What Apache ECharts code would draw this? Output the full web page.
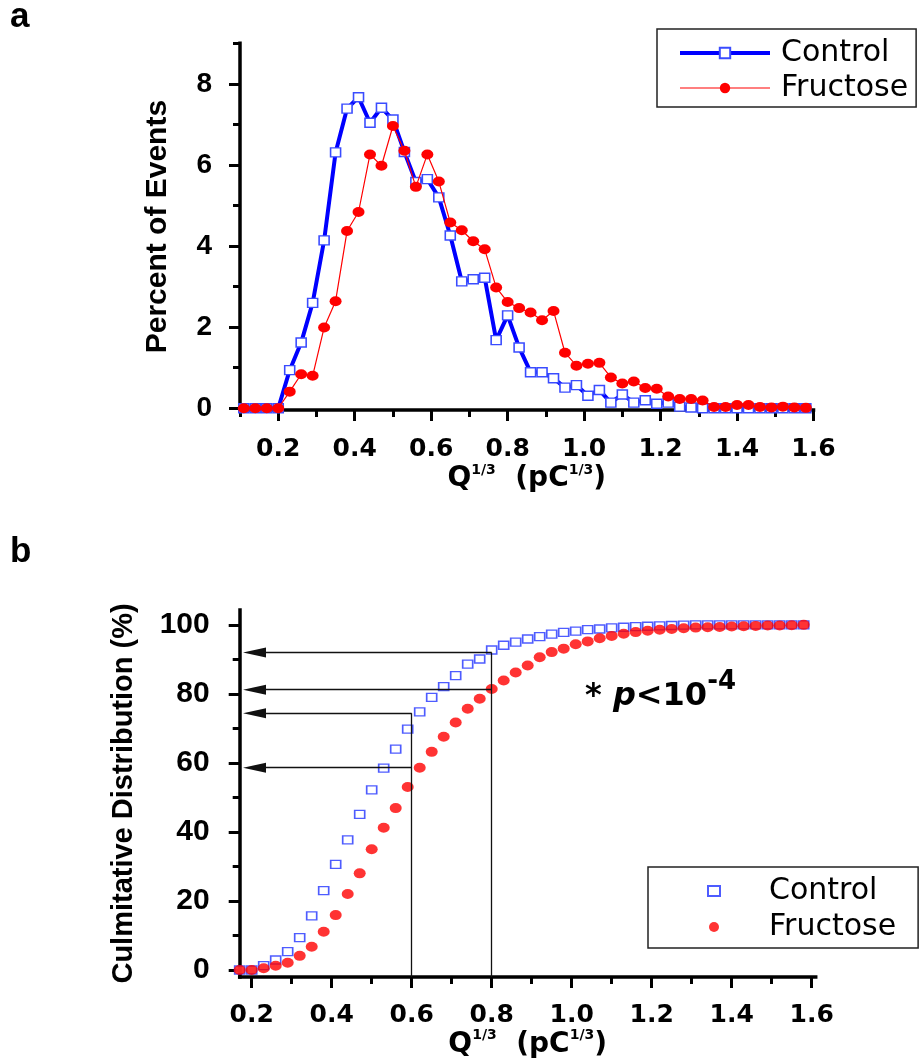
<!DOCTYPE html>
<html><head><meta charset="utf-8">
<script src="https://cdn.jsdelivr.net/npm/echarts@6/dist/echarts.min.js"></script>
<style>html,body{margin:0;padding:0;background:#fff;}#c{width:923px;height:1059px;}</style>
</head><body><div id="c"></div>
<script>
// ---------- data ----------
const binQ = [0.11,0.14,0.17,0.20,0.23,0.26,0.29,0.32,0.35,0.38,0.41,0.44,0.47,0.50,0.53,0.56,0.59,0.62,0.65,0.68,0.71,0.74,0.77,0.80,0.83,0.86,0.89,0.92,0.95,0.98,1.01,1.04,1.07,1.10,1.13,1.16,1.19,1.22,1.25,1.28,1.31,1.34,1.37,1.40,1.43,1.46,1.49,1.52,1.55,1.58];
const controlPct = [0,0,0,0,0.94,1.62,2.60,4.14,6.31,7.39,7.67,7.04,7.41,7.12,6.32,5.58,5.65,5.20,4.26,3.13,3.18,3.22,1.68,2.29,1.50,0.89,0.89,0.74,0.51,0.57,0.31,0.45,0.14,0.34,0.14,0.20,0.11,0.14,0.04,0.02,0,0,0,0,0,0,0,0,0,0];
const fructosePct = [0,0,0,0,0.41,0.84,0.80,1.99,2.64,4.37,4.84,6.26,5.98,6.96,6.35,5.46,6.26,5.59,4.58,4.39,4.12,3.92,2.98,2.62,2.47,2.36,2.17,2.40,1.37,1.05,1.10,1.12,0.76,0.61,0.66,0.50,0.48,0.29,0.23,0.23,0.19,0.03,0.03,0.08,0.08,0.03,0.02,0.04,0.02,0.01];

const cumQ = [0.17,0.20,0.23,0.26,0.29,0.32,0.35,0.38,0.41,0.44,0.47,0.50,0.53,0.56,0.59,0.62,0.65,0.68,0.71,0.74,0.77,0.80,0.83,0.86,0.89,0.92,0.95,0.98,1.01,1.04,1.07,1.10,1.13,1.16,1.19,1.22,1.25,1.28,1.31,1.34,1.37,1.40,1.43,1.46,1.49,1.52,1.55,1.58];
const controlCum = [0,0,1.25,2.9,5.3,9.4,15.7,23.0,30.6,37.7,45.1,52.2,58.5,64.0,69.8,74.8,79.0,82.1,85.3,88.6,90.1,92.7,94.1,95.0,95.9,96.6,97.3,97.8,98.2,98.6,98.8,99.1,99.3,99.5,99.6,99.7,99.8,99.9,100,100,100,100,100,100,100,100,100,100];
const fructoseCum = [0,0,0.5,1.25,2.1,4.1,6.75,11.1,15.9,22.0,28.0,35.0,41.2,46.9,53.0,58.6,63.2,67.6,71.7,75.7,78.6,81.4,83.9,86.2,88.2,90.6,92.1,93.1,94.4,95.2,96.1,96.8,97.4,97.9,98.3,98.6,98.8,99.0,99.2,99.3,99.4,99.5,99.6,99.7,99.8,99.8,99.9,100];

// guide lines (quantile read-offs) in panel b
const guideQ = [0.8, 0.8, 0.6, 0.6];
const guideLevel = [92.0, 81.2, 74.4, 58.6];
const arrowTipQ = 0.207;

// ticks
const xMajor = [0.2,0.4,0.6,0.8,1.0,1.2,1.4,1.6];
const topXMinor = [0.1,0.3,0.5,0.7,0.9,1.1,1.3,1.5];
const botXMinor = [0.3,0.5,0.7,0.9,1.1,1.3,1.5];
const topYMajor = [0,2,4,6,8];
const topYMinor = [1,3,5,7,9];
const botYMajor = [0,20,40,60,80,100];
const botYMinor = [10,30,50,70,90];

const topX = {min:0.1, max:1.6}, topY = {min:-0.04, max:9};
const botX = {min:0.17, max:1.61}, botY = {min:-2, max:104.3};

// ---------- styling helpers ----------
const SANS = 'DejaVu Sans', ARIAL = 'Liberation Sans';
const qName = '{q|Q}{s|1/3}{q|  (pC}{s|1/3}{q|)}';
const qRich = {
  q:{fontFamily:SANS,fontWeight:'bold',fontSize:28,lineHeight:32,verticalAlign:'bottom',color:'#000'},
  s:{fontFamily:SANS,fontWeight:'bold',fontSize:14,lineHeight:14,verticalAlign:'bottom',padding:[0,0,16,0],color:'#000'}
};
function xAxes(g, rng, minor, margin, gap){
  return [{
    type:'value', gridIndex:g, min:rng.min, max:rng.max, position:'bottom',
    axisLine:{show:true,onZero:false,lineStyle:{color:'#000',width:3.5,cap:'square'}},
    axisTick:{show:true,inside:false,length:11,lineStyle:{color:'#000',width:3},customValues:xMajor},
    axisLabel:{show:true,customValues:xMajor,margin:margin,formatter:v=>v.toFixed(1),color:'#000',fontFamily:SANS,fontWeight:'bold',fontSize:25},
    splitLine:{show:false},
    name:qName, nameLocation:'middle', nameGap:gap, nameTextStyle:{rich:qRich}
  },{
    type:'value', gridIndex:g, min:rng.min, max:rng.max, position:'bottom',
    axisLine:{show:false,onZero:false},
    axisTick:{show:true,inside:false,length:7,lineStyle:{color:'#000',width:3},customValues:minor},
    axisLabel:{show:false}, splitLine:{show:false}
  }];
}
function yAxes(g, rng, major, minor, margin, labelSize, name, nameSize, gap){
  return [{
    type:'value', gridIndex:g, min:rng.min, max:rng.max, position:'left',
    axisLine:{show:true,onZero:false,lineStyle:{color:'#000',width:3.5,cap:'square'}},
    axisTick:{show:true,inside:false,length:11,lineStyle:{color:'#000',width:3},customValues:major},
    axisLabel:{show:true,customValues:major,margin:margin,color:'#000',fontFamily:ARIAL,fontWeight:'bold',fontSize:labelSize},
    splitLine:{show:false},
    name:name, nameLocation:'middle', nameGap:gap,
    nameTextStyle:{fontFamily:ARIAL,fontWeight:'bold',fontSize:nameSize,lineHeight:nameSize,color:'#000'}
  },{
    type:'value', gridIndex:g, min:rng.min, max:rng.max, position:'left',
    axisLine:{show:false,onZero:false},
    axisTick:{show:true,inside:false,length:7,lineStyle:{color:'#000',width:3},customValues:minor},
    axisLabel:{show:false}, splitLine:{show:false}
  }];
}

// guide line pairs
const guideLines = [];
[...new Set(guideQ)].forEach(q=>{
  const top = Math.max(...guideLevel.filter((l,i)=>guideQ[i]===q));
  guideLines.push([{coord:[q,botY.min],symbol:'none'},{coord:[q,top],symbol:'none'}]);
});
guideQ.forEach((q,i)=>{
  guideLines.push([{coord:[q,guideLevel[i]],symbol:'none'},{coord:[arrowTipQ,guideLevel[i]],symbol:'triangle'}]);
});

const option = {
  animation:false,
  grid:[
    {left:240, top:43.3, width:573.5, height:366.6, outerBoundsMode:'none', containLabel:false},
    {left:239.7, top:610, width:576, height:366.9, outerBoundsMode:'none', containLabel:false}
  ],
  xAxis:[...xAxes(0, topX, topXMinor, 27, 51), ...xAxes(1, botX, botXMinor, 26, 49)],
  yAxis:[...yAxes(0, topY, topYMajor, topYMinor, 28, 28, 'Percent of Events', 30, 67),
         ...yAxes(1, botY, botYMajor, botYMinor, 30, 30, 'Culmitative Distribution (%)', 29, 101)],
  legend:[{
    orient:'vertical', left:657, top:29, itemWidth:90, itemHeight:13, itemGap:5,
    padding:[9,8,4,21], borderColor:'#222', borderWidth:1.5, backgroundColor:'#fff', borderRadius:0,
    selectedMode:false,
    textStyle:{fontFamily:SANS,fontSize:30,lineHeight:30,color:'#000',padding:[0,0,0,6]},
    data:[{name:'Control', lineStyle:{width:4}}, {name:'Fructose', lineStyle:{width:1.2}}]
  },{
    orient:'vertical', left:648, top:867, itemWidth:12, itemHeight:10, itemGap:6,
    padding:[9,22,6,59], borderColor:'#222', borderWidth:1.5, backgroundColor:'#fff', borderRadius:0,
    selectedMode:false,
    formatter:n=>n.split(' ')[0],
    textStyle:{fontFamily:SANS,fontSize:30,lineHeight:30,color:'#000',padding:[0,0,0,44]},
    data:['Control cumulative','Fructose cumulative']
  }],
  series:[
    {name:'Control', type:'line', xAxisIndex:0, yAxisIndex:0, z:2,
     data:binQ.map((q,i)=>[q,controlPct[i]]),
     symbol:'rect', symbolSize:[10,9], showSymbol:true, showAllSymbol:true,
     lineStyle:{color:'#0000ff',width:4},
     itemStyle:{color:'#ffffff',borderColor:'#3a4cff',borderWidth:1.5},
     emphasis:{disabled:true}},
    {name:'Fructose', type:'line', xAxisIndex:0, yAxisIndex:0, z:3,
     data:binQ.map((q,i)=>[q,fructosePct[i]]),
     symbol:'circle', symbolSize:[12,10], showSymbol:true, showAllSymbol:true,
     lineStyle:{color:'#ff0000',width:1.2},
     itemStyle:{color:'#ff0000',borderWidth:0},
     emphasis:{disabled:true}},
    {name:'Control cumulative', type:'scatter', xAxisIndex:2, yAxisIndex:2, z:2,
     data:cumQ.map((q,i)=>[q,controlCum[i]]),
     symbol:'rect', symbolSize:[10,8],
     itemStyle:{color:'#ffffff',borderColor:'#2233ff',borderWidth:1.5},
     emphasis:{disabled:true}},
    {name:'Fructose cumulative', type:'scatter', xAxisIndex:2, yAxisIndex:2, z:3,
     data:cumQ.map((q,i)=>[q,fructoseCum[i]]),
     symbol:'circle', symbolSize:[12,10],
     itemStyle:{color:'#ff0000'},
     emphasis:{disabled:true},
     markLine:{silent:true, animation:false, symbol:['none','triangle'], symbolSize:[10,23],
       lineStyle:{color:'#111',width:1.3,type:'solid'}, itemStyle:{color:'#111'},
       label:{show:false}, emphasis:{disabled:true}, data:guideLines}}
  ],
  graphic:[
    {type:'text', x:10, y:0, style:{text:'a', fontFamily:ARIAL, fontWeight:'bold', fontSize:35, fill:'#000', verticalAlign:'top'}},
    {type:'text', x:10, y:535, style:{text:'b', fontFamily:ARIAL, fontWeight:'bold', fontSize:35, fill:'#000', verticalAlign:'top'}},
    {type:'text', x:585, y:677, style:{
      text:'{a|* }{i|p}{a|<10}{s|-4}', verticalAlign:'top',
      rich:{
        a:{fontFamily:SANS,fontWeight:'bold',fontSize:32,lineHeight:36,verticalAlign:'bottom',fill:'#000'},
        i:{fontFamily:SANS,fontWeight:'bold',fontStyle:'italic',fontSize:32,lineHeight:36,verticalAlign:'bottom',fill:'#000'},
        s:{fontFamily:SANS,fontWeight:'bold',fontSize:26,lineHeight:26,verticalAlign:'bottom',padding:[0,0,18,0],fill:'#000'}
      }}}
  ]
};
const chart = echarts.init(document.getElementById('c'), null, {renderer:'canvas'});
chart.setOption(option);
</script></body></html>
